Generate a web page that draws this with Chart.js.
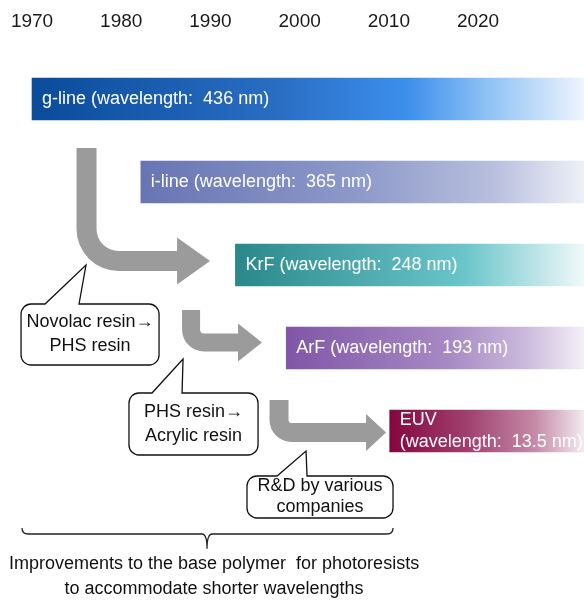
<!DOCTYPE html>
<html>
<head>
<meta charset="utf-8">
<script src="https://cdn.jsdelivr.net/npm/chart.js@4.4.1/dist/chart.umd.min.js"></script>
<style>
  body { margin: 0; background: #fff; }
</style>
</head>
<body>
<canvas id="chart" width="584" height="601"></canvas>
<script>
// timeline data
const years = [1970, 1980, 1990, 2000, 2010, 2020];
const technologies = ['g-line', 'i-line', 'KrF', 'ArF', 'EUV'];
const barLabels = [
  ['g-line (wavelength:  436 nm)'],
  ['i-line (wavelength:  365 nm)'],
  ['KrF (wavelength:  248 nm)'],
  ['ArF (wavelength:  193 nm)'],
  ['EUV', '(wavelength:  13.5 nm)']
];
const startYears = [1970, 1982.2, 1992.8, 1998.5, 2010.1];
const endYears = [2032, 2032, 2032, 2032, 2032];

// resin transitions (callout text)
const calloutTexts = [
  ['Novolac resin\u2192', 'PHS resin'],
  ['PHS resin\u2192', 'Acrylic resin'],
  ['R&D by various', 'companies']
];
const footnote = ['Improvements to the base polymer  for photoresists', 'to accommodate shorter wavelengths'];

const FONT = '"Liberation Sans", Arial, sans-serif';

// gradient stops per bar: [offset, colour]
const gradientStops = [
  [[0, '#0a4b9a'], [0.45, '#2a6ec4'], [0.68, '#3c8fec'], [0.82, '#8cc0f5'], [1, '#eef5fd']],
  [[0, '#6875b4'], [0.5, '#8e9ac9'], [0.8, '#b9c0de'], [1, '#eef0f8']],
  [[0, '#2a888a'], [0.66, '#6bc6cb'], [0.85, '#b6e2e5'], [1, '#f0f9fa']],
  [[0, '#8055a7'], [0.55, '#a78ac4'], [0.8, '#cbb9dc'], [1, '#f3eff7']],
  [[0, '#84073f'], [0.4, '#a0406e'], [0.75, '#c58ba8'], [1, '#f3eaef']]
];

// decorations in axis units (year, row)
const arrows = [
  { x: 1976.11, top: 0.59, y: 1.952, tip: 1989.96, w: 20, head: 33, hh: 23.5, r: 42 },
  { x: 1987.83, top: 2.542, y: 2.934, tip: 1995.78, w: 18, head: 24, hh: 19, r: 22 },
  { x: 1997.69, top: 3.627, y: 4.018, tip: 2009.69, w: 19, head: 20, hh: 18.5, r: 22 }
];
const callouts = [
  { x0: 1968.77, x1: 1984.24, y0: 2.470, y1: 3.205, bl: 1971.46, br: 1975.27, tx: 1976.05, ty: 2.0, lh: 24 },
  { x0: 1980.87, x1: 1995.34, y0: 3.542, y1: 4.289, bl: 1983.45, br: 1986.82, tx: 1986.93, ty: 3.133, lh: 24 },
  { x0: 1994.10, x1: 2010.47, y0: 4.542, y1: 5.048, bl: 1997.47, br: 2000.83, tx: 2000.72, ty: 4.241, lh: 21 }
];
const bracket = { x0: 1968.88, x1: 2010.47, mid: 1989.62, top: 5.169, line: 5.241, tip: 5.42, text: 5.599, lh: 25 };

function barFill(context) {
  const chart = context.chart;
  const area = chart.chartArea;
  const stops = gradientStops[context.dataIndex];
  if (!area || !chart.scales.x) return stops[0][1];
  const x0 = chart.scales.x.getPixelForValue(startYears[context.dataIndex]);
  const g = chart.ctx.createLinearGradient(x0, 0, area.right, 0);
  stops.forEach(([p, c]) => g.addColorStop(p, c));
  return g;
}

function roundedCallout(ctx, x0, y0, x1, y1, bl, br, tx, ty, rad) {
  ctx.beginPath();
  ctx.moveTo(x0 + rad, y0);
  ctx.lineTo(bl, y0);
  ctx.lineTo(tx, ty);
  ctx.lineTo(br, y0);
  ctx.arcTo(x1, y0, x1, y1, rad);
  ctx.arcTo(x1, y1, x0, y1, rad);
  ctx.arcTo(x0, y1, x0, y0, rad);
  ctx.arcTo(x0, y0, x1, y0, rad);
  ctx.closePath();
}

const decorations = {
  id: 'decorations',
  afterDatasetsDraw(chart) {
    const { ctx, scales: { x, y } } = chart;
    const X = v => x.getPixelForValue(v);
    const Y = v => y.getPixelForValue(v);
    ctx.save();

    // labels inside the bars
    const meta = chart.getDatasetMeta(0);
    ctx.font = '18px ' + FONT;
    ctx.fillStyle = '#ffffff';
    ctx.textAlign = 'left';
    ctx.textBaseline = 'middle';
    meta.data.forEach((bar, i) => {
      const lines = barLabels[i];
      const left = Math.min(bar.x, bar.base);
      lines.forEach((t, k) => {
        ctx.fillText(t, left + 10, bar.y + (k - (lines.length - 1) / 2) * 22);
      });
    });

    // grey elbow arrows
    ctx.fillStyle = '#9b9b9b';
    arrows.forEach(a => {
      const sx = X(a.x), ty = Y(a.top), by = Y(a.y), tip = X(a.tip);
      const hw = a.w / 2, R = a.r, r = Math.max(R - a.w, 3);
      const hx = tip - a.head;
      ctx.beginPath();
      ctx.moveTo(sx - hw, ty);
      ctx.lineTo(sx - hw, by + hw - R);
      ctx.arc(sx - hw + R, by + hw - R, R, Math.PI, Math.PI / 2, true);
      ctx.lineTo(hx, by + hw);
      ctx.lineTo(hx, by + a.hh);
      ctx.lineTo(tip, by);
      ctx.lineTo(hx, by - a.hh);
      ctx.lineTo(hx, by - hw);
      ctx.lineTo(sx + hw + r, by - hw);
      ctx.arc(sx + hw + r, by - hw - r, r, Math.PI / 2, Math.PI, false);
      ctx.lineTo(sx + hw, ty);
      ctx.closePath();
      ctx.fill();
    });

    // callouts
    ctx.font = '18px ' + FONT;
    ctx.textAlign = 'center';
    ctx.textBaseline = 'middle';
    callouts.forEach((c, i) => {
      const x0 = X(c.x0), x1 = X(c.x1), y0 = Y(c.y0), y1 = Y(c.y1);
      roundedCallout(ctx, x0, y0, x1, y1, X(c.bl), X(c.br), X(c.tx), Y(c.ty), 10);
      ctx.fillStyle = '#ffffff';
      ctx.fill();
      ctx.lineWidth = 1.3;
      ctx.strokeStyle = '#111111';
      ctx.stroke();
      ctx.fillStyle = '#111111';
      const cx = (x0 + x1) / 2, cy = (y0 + y1) / 2;
      calloutTexts[i].forEach((t, k) => {
        ctx.fillText(t, cx, cy + (k - 0.5) * c.lh);
      });
    });

    // bracket
    const bx0 = X(bracket.x0), bx1 = X(bracket.x1), bm = X(bracket.mid);
    const bt = Y(bracket.top), bl = Y(bracket.line), btip = Y(bracket.tip);
    ctx.beginPath();
    ctx.moveTo(bx0, bt);
    ctx.quadraticCurveTo(bx0, bl, bx0 + 6, bl);
    ctx.lineTo(bm - 5, bl);
    ctx.quadraticCurveTo(bm, bl, bm, btip);
    ctx.quadraticCurveTo(bm, bl, bm + 5, bl);
    ctx.lineTo(bx1 - 6, bl);
    ctx.quadraticCurveTo(bx1, bl, bx1, bt);
    ctx.lineWidth = 1.3;
    ctx.strokeStyle = '#222222';
    ctx.stroke();

    ctx.fillStyle = '#111111';
    ctx.font = '18px ' + FONT;
    footnote.forEach((t, k) => {
      ctx.fillText(t, bm + 7, Y(bracket.text) + k * bracket.lh);
    });
    ctx.restore();
  }
};

new Chart(document.getElementById('chart'), {
  type: 'bar',
  data: {
    labels: technologies,
    datasets: [{
      data: startYears.map((s, i) => [s, endYears[i]]),
      backgroundColor: barFill,
      barThickness: 42,
      borderWidth: 0,
      borderSkipped: false
    }]
  },
  options: {
    indexAxis: 'y',
    responsive: false,
    animation: false,
    layout: { padding: { top: 0, bottom: 128.5, left: 0, right: 0 } },
    scales: {
      x: {
        position: 'top',
        min: 1966.41,
        max: 2031.88,
        grid: { display: false, drawTicks: false },
        border: { display: false },
        afterBuildTicks: s => { s.ticks = years.map(v => ({ value: v })); },
        afterFit: s => {
          s.height = 57.5;
          s.paddingLeft = 0;
          s.paddingRight = 0;
        },
        ticks: {
          padding: 24,
          autoSkip: false,
          maxRotation: 0,
          color: '#1a1a1a',
          font: { family: FONT, size: 19 },
          callback: v => String(v)
        }
      },
      y: { display: false }
    },
    plugins: {
      legend: { display: false },
      tooltip: { enabled: false }
    }
  },
  plugins: [decorations]
});
</script>
</body>
</html>
